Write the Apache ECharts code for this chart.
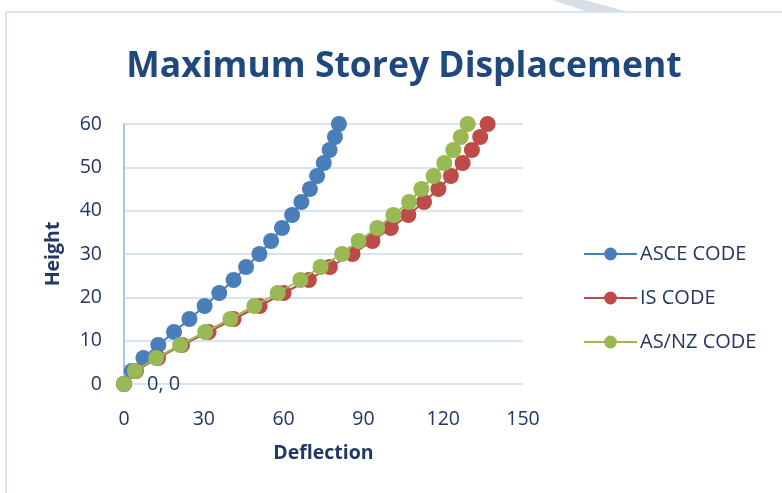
<!DOCTYPE html>
<html>
<head>
<meta charset="utf-8">
<script src="https://cdn.jsdelivr.net/npm/echarts@6/dist/echarts.min.js"></script>
<style>
html,body{margin:0;padding:0;background:#fff;}
#c{width:782px;height:493px;}
</style>
</head>
<body>
<div id="c"></div>
<script>
var heights = [0,3,6,9,12,15,18,21,24,27,30,33,36,39,42,45,48,51,54,57,60];
var asceDeflection = [0,2.9,7.3,12.9,18.8,24.6,30.3,35.8,41.2,45.9,50.9,55.3,59.4,63.2,66.7,69.9,72.6,75.1,77.3,79.3,80.8];
var isDeflection = [0,4.5,12.8,21.8,31.8,41.2,51,60,69.5,77.4,85.9,93.4,100.3,106.9,112.8,118.2,122.9,127.3,130.8,133.9,136.7];
var asnzDeflection = [0,4.1,12.1,21.1,30.5,40,49,57.8,66.3,73.9,82,88.2,95.2,101.3,107.2,111.8,116.4,120.4,123.8,126.6,129.2];
var seriesNames = ['ASCE CODE','IS CODE','AS/NZ CODE'];
var xTicks = {min:0, max:150, interval:30};
var yTicks = {min:0, max:60, interval:10};

function pairs(xs){ return xs.map(function(x,i){ return [x, heights[i]]; }); }

var font = '"Open Sans", "Noto Sans", sans-serif';
var dark = '#1F3864';
var colors = ['#4A7EBB','#BE4B48','#98B954'];

var chart = echarts.init(document.getElementById('c'));
chart.setOption({
  animation:false,
  backgroundColor:'#fff',
  title:{
    text:'Maximum Storey Displacement',
    left:399, textAlign:'center', top:44,
    textStyle:{fontFamily:font, fontWeight:'bold', fontSize:35.5, color:'#1F497D'}
  },
  graphic:[
    {type:'polygon', shape:{points:[[553,0],[584,0],[629,12],[588,12]]}, style:{fill:'#D5DEE4'}, silent:true},
    {type:'line', shape:{x1:6,y1:12,x2:782,y2:12}, style:{stroke:'#D6E3F3', lineWidth:2}, silent:true},
    {type:'line', shape:{x1:6,y1:12,x2:6,y2:493}, style:{stroke:'#D6E3F3', lineWidth:2}, silent:true}
  ],
  grid:{left:124, right:259, top:124, bottom:109},
  legend:{
    orient:'vertical', left:583, top:244, padding:0,
    itemWidth:53, itemHeight:16, itemGap:24,
    data:seriesNames,
    textStyle:{fontFamily:font, fontSize:20, color:dark, padding:[0,0,0,-2]}
  },
  xAxis:{
    type:'value', min:xTicks.min, max:xTicks.max, interval:xTicks.interval,
    name:'Deflection', nameLocation:'middle', nameGap:59,
    nameTextStyle:{fontFamily:font, fontWeight:'bold', fontSize:19.5, color:dark},
    axisLine:{show:false}, axisTick:{show:false},
    axisLabel:{fontFamily:font, fontSize:19.5, color:dark, margin:25},
    splitLine:{show:false}
  },
  yAxis:{
    type:'value', min:yTicks.min, max:yTicks.max, interval:yTicks.interval,
    name:'Height', nameLocation:'middle', nameGap:61,
    nameTextStyle:{fontFamily:font, fontWeight:'bold', fontSize:19.5, color:dark},
    axisLine:{show:true, lineStyle:{color:'#A9C6EA', width:2}}, axisTick:{show:false},
    axisLabel:{fontFamily:font, fontSize:19.5, color:dark, margin:22},
    splitLine:{show:true, lineStyle:{color:'#D6E3F3', width:2}}
  },
  series:[
    {name:seriesNames[0], type:'line', data:pairs(asceDeflection), symbol:'circle', symbolSize:16,
     lineStyle:{color:colors[0], width:2}, itemStyle:{color:colors[0]}, z:2},
    {name:seriesNames[1], type:'line', data:pairs(isDeflection), symbol:'circle', symbolSize:16,
     lineStyle:{color:colors[1], width:2}, itemStyle:{color:colors[1]}, z:3},
    {name:seriesNames[2], type:'line', symbol:'circle', symbolSize:16,
     lineStyle:{color:colors[2], width:2}, itemStyle:{color:colors[2]}, z:4,
     data:pairs(asnzDeflection).map(function(p,i){
       if(i===0){ return {value:p, label:{show:true, position:'right', distance:15,
         formatter:function(){return p[0]+', '+p[1];},
         fontFamily:font, fontSize:20, color:dark}}; }
       return p;
     })}
  ]
});
</script>
</body>
</html>
